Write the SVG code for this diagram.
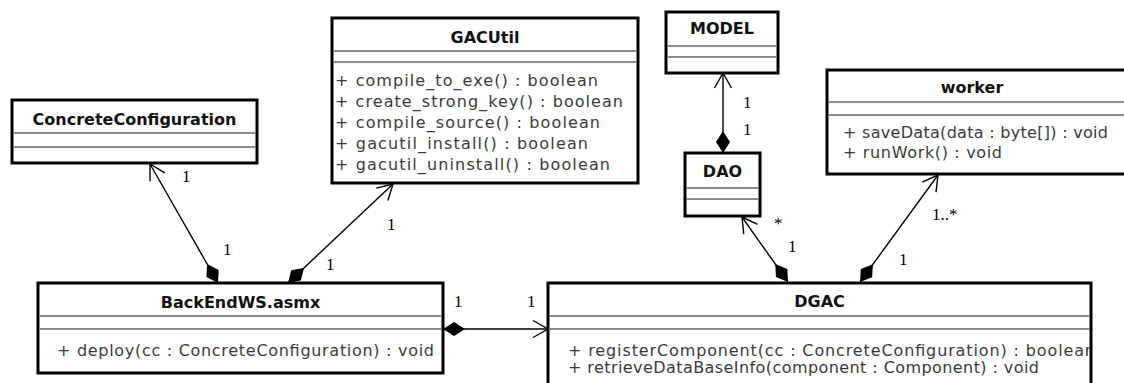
<svg xmlns="http://www.w3.org/2000/svg" width="1124" height="383" viewBox="0 0 1124 383">
<style>
.box{fill:#fff;stroke:#000;stroke-width:3}
.div{stroke:#666;stroke-width:1.5}
.title{font-family:"DejaVu Sans",sans-serif;font-weight:bold;font-size:16px;fill:#111;text-anchor:middle}
.op{font-family:"DejaVu Sans",sans-serif;font-size:16px;fill:#3a3a3a}
.lbl{font-family:"Liberation Serif",serif;font-size:17px;fill:#000}
.con{fill:none;stroke:#000;stroke-width:1.4;marker-start:url(#dia);marker-end:url(#arr)}
</style>
<defs>
<marker id="dia" markerUnits="userSpaceOnUse" orient="auto" refX="0" refY="0" markerWidth="1" markerHeight="1" overflow="visible"><path d="M0,0 L11,-7 L22,0 L11,7 Z" fill="#000"/></marker>
<marker id="arr" markerUnits="userSpaceOnUse" orient="auto" refX="0" refY="0" markerWidth="1" markerHeight="1" overflow="visible"><path d="M-15,-8.5 L0,0 L-15,8.5" fill="none" stroke="#000" stroke-width="1.4"/></marker>
<clipPath id="dgacClip"><rect x="548" y="283" width="542" height="120"/></clipPath>
</defs>
<rect width="1124" height="383" fill="#fff"/>

<g id="connectors">
<path class="con" d="M218,283 L150,164"/>
<path class="con" d="M288,283 L393,184"/>
<path class="con" d="M443,329 L548,329"/>
<path class="con" d="M788,282 L742,217"/>
<path class="con" d="M860,282 L938,175"/>
<path class="con" d="M723,153 L723,73"/>
<text class="lbl" x="182" y="182">1</text>
<text class="lbl" x="223" y="255">1</text>
<text class="lbl" x="387" y="230">1</text>
<text class="lbl" x="326" y="270">1</text>
<text class="lbl" x="454" y="307">1</text>
<text class="lbl" x="527" y="307">1</text>
<text class="lbl" x="743" y="108">1</text>
<text class="lbl" x="743" y="135">1</text>
<text class="lbl" x="774" y="229" font-size="13">*</text>
<text class="lbl" x="788" y="252">1</text>
<text class="lbl" x="932" y="220">1..*</text>
<text class="lbl" x="899" y="265">1</text>
</g>

<g id="ConcreteConfiguration">
<rect class="box" x="12" y="100" width="245" height="63"/>
<text class="title" x="134.5" y="125">ConcreteConfiguration</text>
<line class="div" x1="13.5" y1="133" x2="255.5" y2="133"/>
<line class="div" x1="13.5" y1="147" x2="255.5" y2="147"/>
</g>

<g id="GACUtil">
<rect class="box" x="332" y="18" width="306" height="165"/>
<text class="title" x="485" y="43">GACUtil</text>
<line class="div" x1="333.5" y1="51" x2="636.5" y2="51"/>
<line class="div" x1="333.5" y1="62" x2="636.5" y2="62"/>
<text class="op" x="335" y="86" textLength="263" lengthAdjust="spacing">+ compile_to_exe() : boolean</text>
<text class="op" x="335" y="107" textLength="288" lengthAdjust="spacing">+ create_strong_key() : boolean</text>
<text class="op" x="335" y="128" textLength="265" lengthAdjust="spacing">+ compile_source() : boolean</text>
<text class="op" x="335" y="149" textLength="253" lengthAdjust="spacing">+ gacutil_install() : boolean</text>
<text class="op" x="335" y="170" textLength="275" lengthAdjust="spacing">+ gacutil_uninstall() : boolean</text>
</g>

<g id="MODEL">
<rect class="box" x="666" y="12" width="112" height="61"/>
<text class="title" x="722" y="34">MODEL</text>
<line class="div" x1="667.5" y1="46" x2="776.5" y2="46"/>
<line class="div" x1="667.5" y1="57" x2="776.5" y2="57"/>
</g>

<g id="DAO">
<rect class="box" x="685" y="153" width="75" height="63"/>
<text class="title" x="722.5" y="177">DAO</text>
<line class="div" x1="686.5" y1="188" x2="758.5" y2="188"/>
<line class="div" x1="686.5" y1="199" x2="758.5" y2="199"/>
</g>

<g id="worker">
<rect class="box" x="827" y="70" width="310" height="104"/>
<text class="title" x="972" y="93">worker</text>
<line class="div" x1="828.5" y1="102" x2="1124" y2="102"/>
<line class="div" x1="828.5" y1="115" x2="1124" y2="115"/>
<text class="op" x="843" y="138" textLength="265" lengthAdjust="spacing">+ saveData(data : byte[]) : void</text>
<text class="op" x="843" y="158" textLength="159" lengthAdjust="spacing">+ runWork() : void</text>
</g>

<g id="BackEndWS">
<rect class="box" x="38" y="283" width="405" height="90"/>
<text class="title" x="240.5" y="308">BackEndWS.asmx</text>
<line class="div" x1="39.5" y1="316" x2="441.5" y2="316"/>
<line class="div" x1="39.5" y1="329" x2="441.5" y2="329"/>
<text class="op" x="57" y="356" textLength="377" lengthAdjust="spacing">+ deploy(cc : ConcreteConfiguration) : void</text>
</g>

<g id="DGAC">
<rect class="box" x="548" y="283" width="543" height="120"/>
<text class="title" x="819.5" y="307">DGAC</text>
<line class="div" x1="549.5" y1="316" x2="1089.5" y2="316"/>
<line class="div" x1="549.5" y1="329" x2="1089.5" y2="329"/>
<g clip-path="url(#dgacClip)">
<text class="op" x="568" y="356" textLength="527" lengthAdjust="spacing">+ registerComponent(cc : ConcreteConfiguration) : boolean</text>
</g>
<text class="op" x="568" y="373" textLength="471" lengthAdjust="spacing">+ retrieveDataBaseInfo(component : Component) : void</text>
</g>
</svg>
